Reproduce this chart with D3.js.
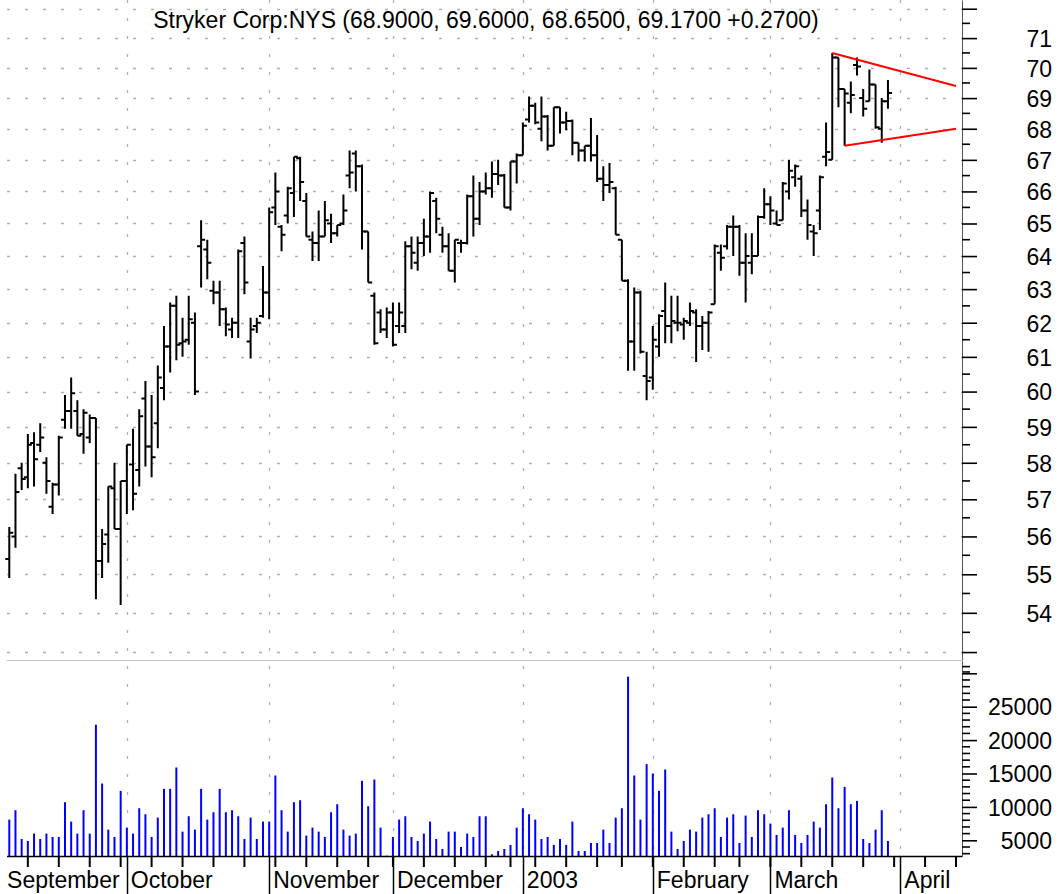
<!DOCTYPE html>
<html>
<head>
<meta charset="utf-8">
<script src="https://cdn.jsdelivr.net/npm/d3@7"></script>
<style>
  body { margin: 0; background: #fff; }
  svg { display: block; font-family: "Liberation Sans", Arial, sans-serif; }
</style>
</head>
<body>
<svg id="chart" width="1061" height="894"></svg>
<script>
// trading calendar (weekends and exchange holidays are skipped)
var calendarStart = "2002-09-03", calendarEnd = "2003-04-16";
var holidays = ["2002-11-28", "2002-12-25", "2003-01-01", "2003-01-20", "2003-02-17"];
var dataStart = "2002-09-04";
var ticker = "Stryker Corp:NYS";

// daily bars, Sep 4 2002 .. Mar 28 2003
var opens = [55.4,56.0,57.85,57.6,58.55,58.5,58.0,56.8,57.4,59.2, 59.45,59.45,58.8,58.7,59.25,55.35,56.05,57.3,56.2,57.5,
  57.95,57.8,59.8,58.45,59.1,60.1,61.3,62.5,61.4,61.5, 62.0,64.3,64.2,62.95,62.9,62.4,61.8,62.0,64.4,61.45,
  61.9,62.2,62.9,65.5,64.9,65.25,65.95,67.05,65.7,64.5, 64.4,64.6,65.0,64.7,65.0,66.5,67.2,66.8,64.75,62.8,
  62.3,61.8,62.3,61.9,61.9,64.3,63.8,64.4,64.6,65.7, 64.65,64.3,63.55,64.4,64.4,65.85,65.15,66.0,66.1,66.55,
  66.5,65.5,66.95,67.15,68.3,68.75,68.0,68.4,67.45,68.7, 68.2,68.25,67.55,67.3,67.45,67.15,66.4,66.2,66.1,64.5,
  63.25,61.45,62.9,60.45,60.4,61.3,62.35,61.9,62.0,61.95, 62.0,62.3,61.9,62.0,62.55,64.1,64.3,64.9,64.9,63.8,
  63.8,64.0,65.2,65.6,65.0,65.1,66.0,66.45,66.4,65.4, 64.75,65.4,67.1,67.0,70.35,69.3,68.85,70.1,69.0,68.9,
  69.45,68.0,68.9];
var highs = [56.25,57.7,58.0,58.8,58.85,59.1,58.15,57.45,58.75,59.9, 60.4,59.75,59.5,59.35,59.25,56.2,57.35,58.0,57.5,58.5,
  58.95,59.5,60.3,59.9,60.75,61.9,62.6,62.8,62.15,62.8, 62.3,65.1,64.5,63.25,63.25,62.45,62.15,64.2,64.6,62.15,
  62.15,63.7,65.5,66.6,64.95,66.15,67.1,67.1,65.95,64.75, 65.4,65.7,65.3,64.95,65.9,67.3,67.3,66.85,64.75,62.9,
  62.4,62.45,62.6,62.6,64.45,64.6,64.6,65.15,66.0,65.8, 64.9,64.7,64.5,64.5,65.9,66.5,66.3,66.6,66.95,67.0,
  66.55,66.95,67.2,68.2,69.05,68.85,69.05,68.45,68.7,68.7, 68.55,68.3,67.55,67.45,68.35,67.8,66.8,66.9,66.15,64.5,
  63.3,63.05,62.95,61.15,61.9,62.25,63.2,62.8,62.8,62.15, 62.6,62.4,62.2,62.35,64.35,64.35,64.95,65.25,64.95,64.7,
  64.7,65.25,66.1,65.85,65.4,66.3,67.0,66.85,66.5,65.75, 64.95,66.5,68.2,70.5,70.35,69.3,69.55,70.35,69.3,69.95,
  69.45,69.0,69.6];
var lows = [54.9,55.7,57.25,57.3,57.35,58.3,57.15,56.6,57.1,58.95, 58.95,58.75,58.25,58.55,54.35,54.9,55.3,56.2,54.2,56.6,
  56.7,57.35,57.9,57.6,58.4,59.75,60.55,60.9,61.0,61.35, 59.9,63.05,63.3,62.55,61.9,61.6,61.55,61.55,62.85,60.95,
  61.7,62.15,62.1,64.95,64.15,65.0,65.2,65.7,64.6,63.85, 63.85,64.6,64.4,64.6,64.95,66.1,66.0,64.2,63.2,61.35,
  61.7,61.55,61.3,61.7,61.7,63.6,63.55,64.0,64.1,64.7, 64.1,63.55,63.2,64.1,64.35,64.6,64.95,65.9,65.8,66.2,
  65.5,65.4,66.25,67.15,68.2,68.15,67.6,67.3,67.45,67.85, 67.95,67.15,66.95,66.95,66.95,66.3,65.7,65.95,64.65,63.25,
  60.6,60.6,61.1,59.75,60.05,61.0,61.4,61.4,61.75,61.5, 61.9,60.85,61.2,61.15,62.55,63.55,64.2,64.0,63.4,62.6,
  63.45,64.0,65.15,64.95,64.95,65.1,65.75,66.15,65.2,64.5, 64.0,64.8,66.8,67.0,68.7,67.45,68.5,69.75,68.4,68.9,
  68.0,67.55,68.65];
var closes = [56.1,57.2,57.55,58.5,58.1,58.7,57.5,57.4,58.7,59.45, 59.95,58.75,59.4,59.25,55.35,55.8,57.35,56.2,57.5,58.5,
  57.15,59.3,58.45,58.15,60.4,61.3,62.5,61.35,61.45,62.1, 60.0,64.5,63.8,62.9,62.4,61.95,62.0,64.15,63.2,61.8,
  62.0,62.9,65.35,66.0,64.65,66.1,67.1,66.3,64.6,64.4, 64.6,65.1,64.7,64.95,65.4,66.6,66.8,64.75,63.2,61.4,
  61.8,62.3,61.35,62.3,64.3,64.1,64.4,64.6,65.95,65.15, 64.3,63.55,64.5,64.4,65.85,65.15,66.0,66.1,66.55,66.5,
  65.5,66.95,67.15,68.1,68.75,68.2,68.4,67.45,68.7,68.2, 68.25,67.55,67.3,67.45,67.15,66.4,66.2,66.3,64.65,63.25,
  61.45,62.9,61.15,60.3,61.5,62.2,61.9,62.05,62.0,62.05, 62.35,61.9,62.0,62.3,64.3,63.95,64.9,64.9,63.8,64.0,
  64.0,65.2,65.6,65.4,64.95,66.25,66.65,66.8,65.4,64.95, 64.7,66.45,67.25,70.35,69.3,69.15,69.1,70.05,68.65,69.45,
  68.05,68.9,69.17];
var volumes = [8100,9500,5200,4900,6000,5200,6000,5500,5500,10700, 7800,6000,9500,6000,22300,13500,6600,5500,12400,6900,
  6000,9800,8900,5500,8400,12700,12700,15900,6300,8600, 6600,12700,8100,9200,12700,9200,9500,8600,5200,8400,
  5200,7800,7800,14700,9500,6300,10700,11000, 5700,6900,6300,5500,9200,10400,6600,5700,6000,13900,
  10100,14100,6900,2700,5500,8100,8600,5500,4900,6000, 7800,5200,3700,6300,6300,4000,6000,5500,8600,8600,
  2900,3400,3700,4300,6900,9800,8900,8100,5200,5500, 4300,5200,4300,7800,3400,3400,4600,4600,
  6600,4600,8400,9800,29500,14700,8100,16400,15000,12400, 15600,6300,3700,4900,6600,6300,8400,8900,9800,5500,
  8400,8900,4600,8700,5500,9500,8900,7500,5800,6900, 9500,5800,4600,5800,7800,6900,10400,14400,9800,13000,
  10400,10900,5200,4600,6600,9500,4900];

var monthNames = ["September", "October", "November", "December", "2003", "February", "March", "April"];
var priceGridValues = d3.range(53, 73);
var priceLabelValues = d3.range(54, 72);
var volumeLabelValues = [5000, 10000, 15000, 20000, 25000];

// triangle drawn on the last weeks
var upperLine = [["2003-03-17", 70.5], ["2003-04-14", 69.4]];
var lowerLine = [["2003-03-19", 67.45], ["2003-04-14", 68.0]];

var svg = d3.select("#chart");
var parse = d3.timeParse("%Y-%m-%d"), fmt = d3.timeFormat("%Y-%m-%d");
var fontSize = 23;

var days = d3.timeDay.range(parse(calendarStart), parse(calendarEnd))
  .filter(function(d) { return d.getDay() % 6 != 0 && holidays.indexOf(fmt(d)) < 0; });
var dayIndex = {};
days.forEach(function(d, i) { dayIndex[fmt(d)] = i; });
function firstTradingIndex(date) {
  for (var i = 0; i < days.length; i++) if (days[i] >= date) return i;
  return days.length;
}

var left = 7, right = 962;
var x = d3.scaleLinear().domain([0, 155]).range([3.1, 962.2]);
var yPrice = d3.scaleLog().domain([52.8, 72.3]).range([660, 0]);
var yVol = d3.scaleLinear().domain([2575, 31886]).range([856.5, 660.7]);
var start = dayIndex[dataStart];

var bars = opens.map(function(o, i) {
  return { i: start + i, o: o, h: highs[i], l: lows[i], c: closes[i], v: volumes[i] };
});

// month and week positions
var months = d3.timeMonth.range(parse("2002-09-01"), parse("2003-05-01")).map(function(m, k) {
  return { idx: firstTradingIndex(m), name: monthNames[k] };
});
var weeks = d3.timeMonday.range(parse("2002-09-09"), parse("2003-04-15")).map(firstTradingIndex);

// grid
var grid = svg.append("g").attr("stroke", "#b0b0b0").attr("stroke-width", 1.3).attr("stroke-dasharray", "3,15");
grid.selectAll(".h").data(priceGridValues).join("line")
  .attr("x1", left).attr("x2", right)
  .attr("y1", function(d) { return Math.round(yPrice(d)) + 0.5; })
  .attr("y2", function(d) { return Math.round(yPrice(d)) + 0.5; });
grid.selectAll(".v").data(months.slice(1)).join("line")
  .attr("x1", function(d) { return Math.round(x(d.idx)) + 0.5; })
  .attr("x2", function(d) { return Math.round(x(d.idx)) + 0.5; })
  .attr("y1", 0).attr("y2", 856);

// panel divider
svg.append("line").attr("x1", left).attr("x2", right).attr("y1", 660.5).attr("y2", 660.5)
  .attr("stroke", "#c4c4c4").attr("stroke-width", 1);

// volume
svg.append("g").selectAll("line").data(bars).join("line")
  .attr("x1", function(d) { return x(d.i); }).attr("x2", function(d) { return x(d.i); })
  .attr("y1", yVol.range()[0]).attr("y2", function(d) { return yVol(d.v); })
  .attr("stroke", "#0000ff").attr("stroke-width", 2);

// price bars
svg.append("g").selectAll("path").data(bars).join("path")
  .attr("d", function(d) {
    var cx = x(d.i);
    return "M" + cx + "," + yPrice(d.h) + "V" + yPrice(d.l) +
      "M" + (cx - 4) + "," + yPrice(d.o) + "H" + cx +
      "M" + cx + "," + yPrice(d.c) + "H" + (cx + 4);
  })
  .attr("fill", "none").attr("stroke", "#000").attr("stroke-width", 2);

// triangle
var trend = d3.line().x(function(d) { return x(dayIndex[d[0]]); }).y(function(d) { return yPrice(d[1]); });
[upperLine, lowerLine].forEach(function(l) {
  svg.append("path").attr("d", trend(l)).attr("fill", "none").attr("stroke", "#ff0000").attr("stroke-width", 2);
});

// right axes
var axisPrice = svg.append("g").attr("transform", "translate(" + right + ",0)")
  .call(d3.axisRight(yPrice).tickValues(priceGridValues).tickSize(15).tickSizeOuter(0)
    .tickFormat(function(d) { return priceLabelValues.indexOf(d) >= 0 ? d : ""; }));
axisPrice.append("g").selectAll("line").data(d3.range(52.5, 72.5, 1)).join("line")
  .attr("x2", 8).attr("y1", yPrice).attr("y2", yPrice).attr("stroke", "#000");

var axisVol = svg.append("g").attr("transform", "translate(" + right + ",0)")
  .call(d3.axisRight(yVol).tickValues(d3.range(5000, 31000, 5000)).tickSize(15).tickSizeOuter(0)
    .tickFormat(function(d) { return volumeLabelValues.indexOf(d) >= 0 ? d : ""; }));
axisVol.append("g").selectAll("line")
  .data(d3.range(3000, 32000, 1000).filter(function(v) { return v % 5000 != 0; })).join("line")
  .attr("x2", 8).attr("y1", yVol).attr("y2", yVol).attr("stroke", "#000");

[axisPrice, axisVol].forEach(function(a) {
  a.select(".domain").attr("stroke", "#555").attr("stroke-width", 1);
  a.selectAll("line").attr("stroke-width", 1.6);
  a.selectAll("text").attr("x", 90).attr("dy", "0.36em").attr("text-anchor", "end")
    .attr("font-size", fontSize).attr("font-family", "Liberation Sans, Arial, sans-serif").attr("fill", "#000");
});

// bottom time axis
var bottom = svg.append("g").attr("stroke", "#000");
bottom.append("line").attr("x1", left).attr("x2", right).attr("y1", 856.5).attr("y2", 856.5).attr("stroke-width", 1.5);
bottom.selectAll(".wk").data(weeks).join("line")
  .attr("x1", function(d) { return x(d); }).attr("x2", function(d) { return x(d); })
  .attr("y1", 856).attr("y2", 867).attr("stroke-width", 2);
bottom.selectAll(".mo").data(months.slice(1)).join("line")
  .attr("x1", function(d) { return Math.round(x(d.idx)) + 0.5; })
  .attr("x2", function(d) { return Math.round(x(d.idx)) + 0.5; })
  .attr("y1", 856).attr("y2", 894).attr("stroke-width", 1.5);
svg.append("g").selectAll("text").data(months).join("text")
  .attr("x", function(d) { return x(d.idx) + 4; }).attr("y", 888)
  .attr("font-size", fontSize).text(function(d) { return d.name; });

// title
var last = bars[bars.length - 1], prev = bars[bars.length - 2];
var f4 = d3.format(".4f");
svg.append("text").attr("x", 486).attr("y", 28).attr("text-anchor", "middle").attr("font-size", fontSize)
  .text(ticker + " (" + [last.o, last.h, last.l, last.c].map(f4).join(", ") + " " +
    d3.format("+.4f")(last.c - prev.c) + ")");
</script>
</body>
</html>
